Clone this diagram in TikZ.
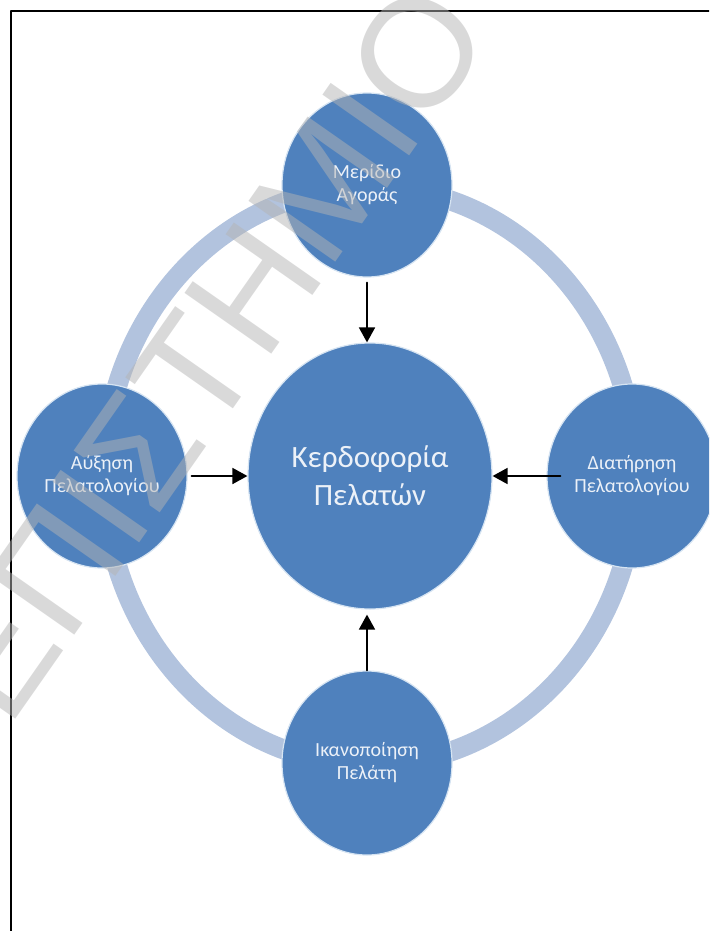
\documentclass[tikz,border=0pt]{standalone}
\usepackage{fontspec}
\setmainfont{Carlito}
\newfontfamily\wmfont{Liberation Sans}
\usetikzlibrary{arrows.meta,shapes.geometric}
\definecolor{cblue}{RGB}{79,129,189}
\definecolor{cring}{RGB}{178,195,222}
\definecolor{cedge}{RGB}{214,228,242}
\definecolor{ctext}{RGB}{236,241,248}
\definecolor{cmark}{RGB}{180,180,180}

\tikzset{
  bubble/.style={ellipse,fill=cblue,draw=cedge,line width=1.2pt,inner sep=0pt,
    text=ctext,align=center,minimum width=170pt,minimum height=184pt,
    font=\fontsize{20}{23}\selectfont},
  hub/.style={bubble,minimum width=244pt,minimum height=266pt,
    font=\fontsize{31}{38}\selectfont},
  feed/.style={->,line width=1.8pt},
  stamp/.style={font=\wmfont\fontsize{154}{154}\selectfont,text=cmark,
    opacity=0.5,rotate=55,anchor=base east,inner sep=0pt}
}

\begin{document}
\begin{tikzpicture}[line cap=round,line join=round,>={Triangle[length=15pt,width=16pt]},x=1pt,y=-1pt]

\clip (0,0) rectangle (709,931);
\draw [line width=2pt] (11,931) -- (11,11) -- (709,11);

% ring behind the four outer bubbles
\draw [cring,line width=20pt] (370,476) ellipse (266 and 289);

\node [hub] (kerd) at (370,476) {Κερδοφορία\\Πελατών};
\node [bubble] (merid) at (367,185) {Μερίδιο\\Αγοράς};
\node [bubble] (afxisi) at (102,476) {Αύξηση\\Πελατολογίου};
\node [bubble] (diat) at (632,476) {Διατήρηση\\Πελατολογίου};
\node [bubble] (ikan) at (367,763) {Ικανοποίηση\\Πελάτη};

\draw [feed,shorten <=5pt] (merid.south) -- (merid.south |- kerd.north);
\draw [feed,shorten <=4pt] (afxisi.east) -- (afxisi.east -| kerd.west);
\draw [feed,shorten <=-14pt] (diat.west) -- (diat.west -| kerd.east);
\draw [feed,shorten >=5pt] (ikan.north) -- (ikan.north |- kerd.south);

\node [stamp] (mark) at (495,34.5) {ΕΠΙΣΤΗΜΙΟ};

\end{tikzpicture}
\end{document}
